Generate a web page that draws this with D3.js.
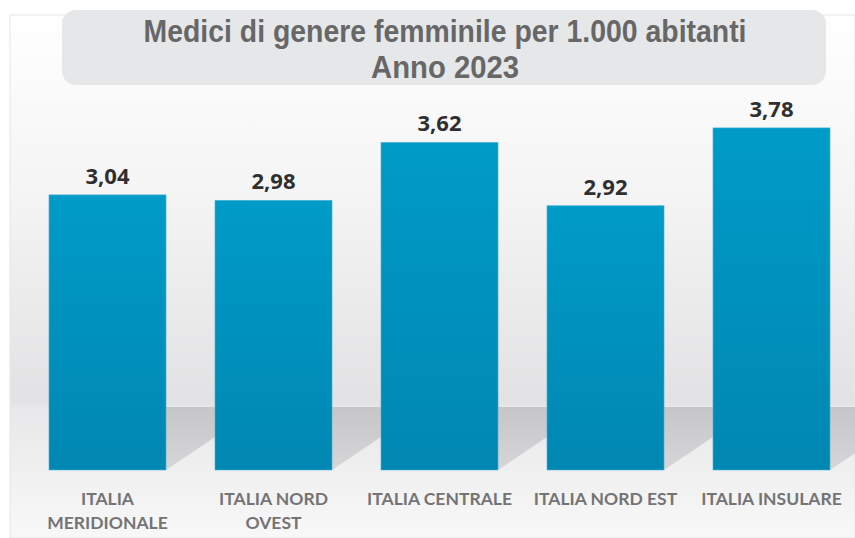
<!DOCTYPE html>
<html><head><meta charset="utf-8">
<script src="https://cdn.jsdelivr.net/npm/d3@7"></script>
<style>html,body{margin:0;padding:0;background:#fff;}svg{display:block;}</style>
</head><body>
<script>
const categories = [["ITALIA","MERIDIONALE"],["ITALIA NORD","OVEST"],["ITALIA CENTRALE"],["ITALIA NORD EST"],["ITALIA INSULARE"]];
const values = [3.04, 2.98, 3.62, 2.92, 3.78];
const valueLabels = ["3,04","2,98","3,62","2,92","3,78"];
const titleLines = ["Medici di genere femminile per 1.000 abitanti","Anno 2023"];

const W = 855, H = 538;
const svg = d3.select("body").append("svg").attr("width", W).attr("height", H);
const defs = svg.append("defs");

const bg = defs.append("linearGradient").attr("id","bg").attr("x1",0).attr("y1",0).attr("x2",0).attr("y2",1);
bg.append("stop").attr("offset","0%").attr("stop-color","#ffffff");
bg.append("stop").attr("offset","35%").attr("stop-color","#f4f4f5");
bg.append("stop").attr("offset","74%").attr("stop-color","#e2e2e4");
bg.append("stop").attr("offset","75%").attr("stop-color","#e8e8ea");
bg.append("stop").attr("offset","100%").attr("stop-color","#f8f8f8");

const barG = defs.append("linearGradient").attr("id","barG").attr("x1",0).attr("y1",0).attr("x2",0).attr("y2",1);
barG.append("stop").attr("offset","0%").attr("stop-color","#009bc8");
barG.append("stop").attr("offset","100%").attr("stop-color","#0087b2");

const shG = defs.append("linearGradient").attr("id","shG").attr("x1",0).attr("y1",0).attr("x2",0).attr("y2",1);
shG.append("stop").attr("offset","0%").attr("stop-color","#c6c6c8");
shG.append("stop").attr("offset","100%").attr("stop-color","#d6d6d8");

defs.append("clipPath").attr("id","panelClip").append("rect").attr("x",10).attr("y",15).attr("width",845).attr("height",523);

// panel
svg.append("rect").attr("x",10).attr("y",15).attr("width",845).attr("height",523)
  .attr("fill","url(#bg)").attr("stroke","#e6e6e6").attr("stroke-width",1);

const x = d3.scaleBand().domain(d3.range(values.length)).range([24.5, 854.5]).paddingInner(0.295).paddingOuter(0.1475);
const y = d3.scaleLinear().domain([0, 4]).range([470, 108]);

// shadows
const sh = svg.append("g").attr("clip-path","url(#panelClip)");
sh.selectAll("path").data(values).join("path")
  .attr("d",(d,i)=>{
    const r = x(i)+x.bandwidth();
    const top = y(0)-63, gap = x.step()-x.bandwidth();
    return `M${r},${top}L${r+gap},${top}L${r+gap},${y(0)-33}L${r},${y(0)}Z`;
  })
  .attr("fill","url(#shG)");

// bars
svg.selectAll("rect.bar").data(values).join("rect").attr("class","bar")
  .attr("x",(d,i)=>x(i)).attr("width",x.bandwidth())
  .attr("y",d=>y(d)).attr("height",d=>y(0)-y(d))
  .attr("fill","url(#barG)").attr("stroke","#4db3d6").attr("stroke-width",0.6);

// value labels
svg.selectAll("text.val").data(values).join("text").attr("class","val")
  .attr("x",(d,i)=>x(i)+x.bandwidth()/2).attr("y",d=>y(d)-11)
  .attr("text-anchor","middle").attr("font-family","'Open Sans', sans-serif")
  .attr("font-weight","bold").attr("font-size",22).attr("fill","#2f2f2f")
  .text((d,i)=>valueLabels[i]);

// category labels
const cat = svg.selectAll("text.cat").data(categories).join("text").attr("class","cat")
  .attr("text-anchor","middle").attr("font-family","Lato, sans-serif").attr("font-weight","bold")
  .attr("font-size",17.5).attr("fill","#747474");
cat.selectAll("tspan").data((d,i)=>d.map(s=>({s,i}))).join("tspan")
  .attr("x",d=>x(d.i)+x.bandwidth()/2).attr("y",(d,j)=>505+j*24).text(d=>d.s);

// title box
svg.append("rect").attr("x",62).attr("y",10).attr("width",764).attr("height",75).attr("rx",14)
  .attr("fill","#e6e7e9");
const titleWidths = [603, 148];
svg.selectAll("text.title").data(titleLines).join("text").attr("class","title")
  .attr("x",445).attr("y",(d,i)=>42+i*36).attr("text-anchor","middle")
  .attr("font-family","'Liberation Sans', Arial, sans-serif")
  .attr("font-weight","bold").attr("font-size",31).attr("fill","#676767")
  .attr("textLength",(d,i)=>titleWidths[i]).attr("lengthAdjust","spacingAndGlyphs")
  .text(d=>d);
</script>
</body></html>
